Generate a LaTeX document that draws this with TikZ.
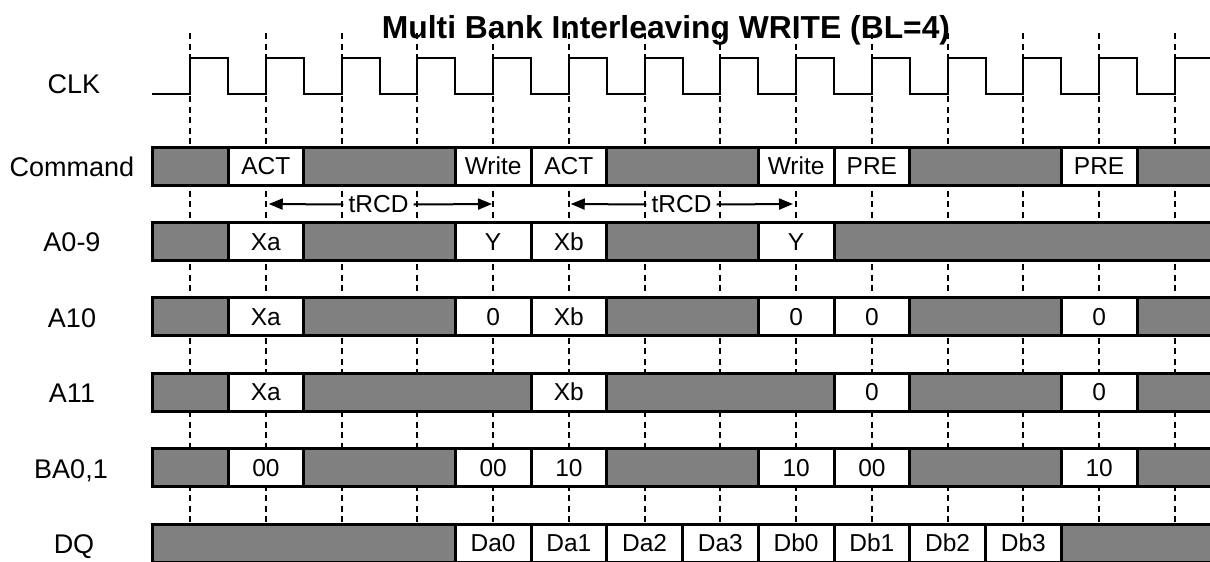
\documentclass[tikz,border=0pt]{standalone}
\usepackage{graphicx}
\usepackage{fontspec}
\setmainfont{Liberation Sans}
\usetikzlibrary{arrows.meta}
\definecolor{busgray}{RGB}{128,128,128}
\def\per{75.75}
\newcommand{\graycell}[3]{%
  \pgfmathsetmacro\xa{ifthenelse(#2==0,152,228+(#2-1)*\per)}%
  \pgfmathsetmacro\xb{ifthenelse(#3==13,1212,228+#3*\per)}%
  \pgfmathsetmacro\ya{147+75.4*#1}%
  \pgfmathsetmacro\yb{\ya+38}%
  \fill[busgray] (\xa,\ya) rectangle (\xb,\yb);%
  \draw[border] (\xa,\ya) -- (\xa,\yb);%
}
\newcommand{\valcell}[4]{%
  \pgfmathsetmacro\xa{ifthenelse(#2==0,152,228+(#2-1)*\per)}%
  \pgfmathsetmacro\xb{ifthenelse(#2==13,1212,228+#2*\per)}%
  \pgfmathsetmacro\ya{147+75.4*#1}%
  \pgfmathsetmacro\yb{\ya+38}%
  \fill[white] (\xa,\ya) rectangle (\xb,\yb);%
  \draw[border] (\xa,\ya) -- (\xa,\yb);%
  \node[celltext] (#4) at ({(\xa+\xb)/2},{\ya+19+8.7}) {#3};%
}
\newcommand{\rowframe}[1]{%
  \pgfmathsetmacro\ya{147+75.4*#1}%
  \pgfmathsetmacro\yb{\ya+38}%
  \draw[border] (1214,\ya) -- (152,\ya) -- (152,\yb) -- (1214,\yb);%
}
\begin{document}
\begin{tikzpicture}[x=1pt,y=-1pt,
  border/.style={line width=3pt},
  clk/.style={line width=2pt},
  dashline/.style={line width=2pt, dash pattern=on 6pt off 4.5pt},
  celltext/.style={font=\fontsize{24.5}{28}\selectfont, inner sep=0pt, anchor=base},
  lbl/.style={font=\fontsize{27}{32}\selectfont, inner sep=0pt, anchor=base},
  arr/.style={line width=2pt, -{Triangle[length=14pt,width=11pt]}}]
\useasboundingbox (0,0) rectangle (1210,562);
\fill[white] (0,0) rectangle (1210,562);

% title
\node[anchor=base, inner sep=0pt] (title) at (666,38)
  {\resizebox{568pt}{!}{\fontsize{31.5}{36}\selectfont\bfseries Multi Bank Interleaving WRITE (BL=4)}};

% dashed clock-edge guides
\foreach \k in {0,...,13}{
  \draw[dashline] ({190+\k*\per},33) -- ({190+\k*\per},524);
}

% clock
\draw[clk] (152,94.3)
  \foreach \k in {0,...,12}{
    -- ({190+\k*\per},94.3) -- ({190+\k*\per},57.7) -- ({228+\k*\per},57.7) -- ({228+\k*\per},94.3)
  }
  -- ({190+13*\per},94.3) -- ({190+13*\per},57.7) -- (1212,57.7);

% labels
\node[lbl] (lclk) at (74,93) {CLK};
\node[lbl] (lcmd) at (72,{147+19+10.5}) {Command};
\node[lbl] (la09) at (72,{147+75.4+19+10.5}) {A0-9};
\node[lbl] (la10) at (72,{147+2*75.4+19+10.5}) {A10};
\node[lbl] (la11) at (72,{147+3*75.4+19+10.5}) {A11};
\node[lbl] (lba) at (71,{147+4*75.4+19+10.5}) {BA0,1};
\node[lbl] (ldq) at (74,{147+5*75.4+19+10.5}) {DQ};

% Command
\graycell{0}{0}{0}
\valcell{0}{1}{ACT}{c1}
\graycell{0}{2}{3}
\valcell{0}{4}{Write}{c4}
\valcell{0}{5}{ACT}{c5}
\graycell{0}{6}{7}
\valcell{0}{8}{Write}{c8}
\valcell{0}{9}{PRE}{c9}
\graycell{0}{10}{11}
\valcell{0}{12}{PRE}{c12}
\graycell{0}{13}{13}
\rowframe{0}

% A0-9
\graycell{1}{0}{0}
\valcell{1}{1}{Xa}{a1}
\graycell{1}{2}{3}
\valcell{1}{4}{Y}{a4}
\valcell{1}{5}{Xb}{a5}
\graycell{1}{6}{7}
\valcell{1}{8}{Y}{a8}
\graycell{1}{9}{13}
\rowframe{1}

% A10
\graycell{2}{0}{0}
\valcell{2}{1}{Xa}{b1}
\graycell{2}{2}{3}
\valcell{2}{4}{0}{b4}
\valcell{2}{5}{Xb}{b5}
\graycell{2}{6}{7}
\valcell{2}{8}{0}{b8}
\valcell{2}{9}{0}{b9}
\graycell{2}{10}{11}
\valcell{2}{12}{0}{b12}
\graycell{2}{13}{13}
\rowframe{2}

% A11
\graycell{3}{0}{0}
\valcell{3}{1}{Xa}{d1}
\graycell{3}{2}{4}
\valcell{3}{5}{Xb}{d5}
\graycell{3}{6}{8}
\valcell{3}{9}{0}{d9}
\graycell{3}{10}{11}
\valcell{3}{12}{0}{d12}
\graycell{3}{13}{13}
\rowframe{3}

% BA0,1
\graycell{4}{0}{0}
\valcell{4}{1}{00}{e1}
\graycell{4}{2}{3}
\valcell{4}{4}{00}{e4}
\valcell{4}{5}{10}{e5}
\graycell{4}{6}{7}
\valcell{4}{8}{10}{e8}
\valcell{4}{9}{00}{e9}
\graycell{4}{10}{11}
\valcell{4}{12}{10}{e12}
\graycell{4}{13}{13}
\rowframe{4}

% DQ
\graycell{5}{0}{3}
\valcell{5}{4}{Da0}{q4}
\valcell{5}{5}{Da1}{q5}
\valcell{5}{6}{Da2}{q6}
\valcell{5}{7}{Da3}{q7}
\valcell{5}{8}{Db0}{q8}
\valcell{5}{9}{Db1}{q9}
\valcell{5}{10}{Db2}{q10}
\valcell{5}{11}{Db3}{q11}
\graycell{5}{12}{13}
\rowframe{5}

% tRCD
\node[celltext, anchor=center, inner xsep=5pt] (t1) at (378.5,204.5) {tRCD};
\coordinate (t1l) at ({190+\per+3},204);
\coordinate (t1r) at ({190+4*\per-1},204);
\draw[arr] (t1.west) -- (t1l);
\draw[arr] (t1.east) -- (t1r);
\node[celltext, anchor=center, inner xsep=5pt] (t2) at (681.5,204.5) {tRCD};
\coordinate (t2l) at ({190+5*\per+2},204);
\coordinate (t2r) at ({190+8*\per-3},204);
\draw[arr] (t2.west) -- (t2l);
\draw[arr] (t2.east) -- (t2r);
\end{tikzpicture}
\end{document}
